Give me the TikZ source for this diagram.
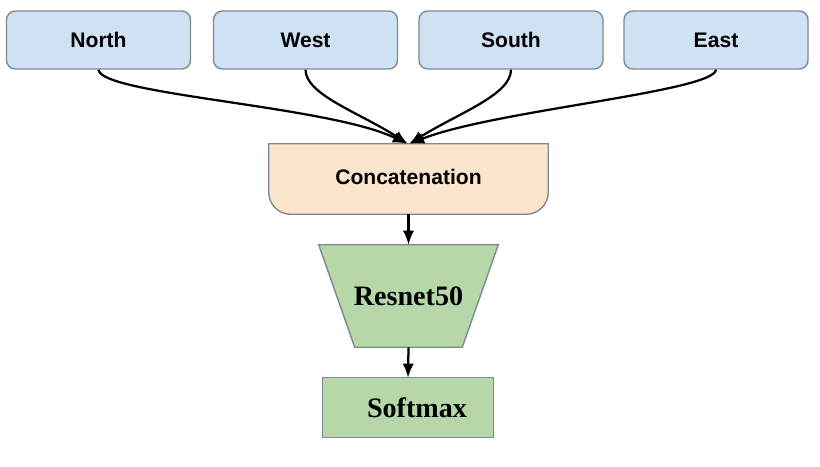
\documentclass[tikz,border=0pt]{standalone}
\usepackage{fontspec}
\usetikzlibrary{arrows.meta,backgrounds}
\newfontfamily\boxfont{Liberation Sans}
\newfontfamily\netfont{Liberation Serif}
\definecolor{dirblue}{HTML}{CFE2F3}
\definecolor{catpeach}{HTML}{FCE5CD}
\definecolor{netgreen}{HTML}{B6D7A8}
\definecolor{edgegray}{HTML}{7E8A94}
\tikzset{
  dirbox/.style={draw=edgegray, line width=1pt, fill=dirblue, rounded corners=0.22cm,
    minimum width=4.6cm, minimum height=1.45cm, inner sep=0pt,
    font=\boxfont\fontsize{15}{18}\selectfont\bfseries},
  netlabel/.style={minimum width=#1, inner sep=0pt,
    font=\netfont\fontsize{20}{24}\selectfont\bfseries},
  flow/.style={line width=1.6pt, -{Latex[length=10pt,width=8pt]}}
}

\begin{document}
\begin{tikzpicture}
			%%%%% START %%%%%
			\useasboundingbox (0, 0) rectangle (20.5, -11.675);
			
			\node[dirbox] (north) at (2.4625, -1.0) {North};
			\node[dirbox] (west) at (7.6375, -1.0) {West};
			\node[dirbox] (south) at (12.775, -1.0) {South};
			\node[dirbox] (east) at (17.9, -1.0) {East};
			
			\node[minimum width=6.975cm, minimum height=1.75cm, inner sep=0pt,
			  font=\boxfont\fontsize{15}{18}\selectfont\bfseries] (concat) at (10.2125, -4.475) {\raisebox{0.1cm}{Concatenation}};
			\node[netlabel=4.475cm, minimum height=2.55cm] (resnet) at (10.2125, -7.4) {Resnet50};
			\node[netlabel=4.25cm, minimum height=1.475cm] (softmax) at (10.2, -10.1875) {\hspace{0.45cm}Softmax};
			
			\begin{scope}[on background layer]
			\draw[draw=edgegray, line width=1pt, fill=catpeach] (concat.north west) -- (concat.north east)
			  -- ([yshift=0.55cm]concat.south east) arc[start angle=0, end angle=-90, radius=0.55cm]
			  -- ([xshift=0.55cm]concat.south west) arc[start angle=270, end angle=180, radius=0.55cm] -- cycle;
			\draw[draw=edgegray, line width=1pt, fill=netgreen] (resnet.north west) -- (resnet.north east)
			  -- ([xshift=-0.9cm]resnet.south east) -- ([xshift=0.9cm]resnet.south west) -- cycle;
			\draw[draw=edgegray, line width=1pt, fill=netgreen] (softmax.north west) rectangle (softmax.south east);
			\end{scope}
			
			\draw[flow] (north.south) .. controls +(0.05, -0.625) and +(-1.95, 0.95) .. ([xshift=-0.04cm]concat.north);
			\draw[flow] (west.south) .. controls +(0, -0.625) and +(-1.2, 0.775) .. ([xshift=-0.02cm]concat.north);
			\draw[flow] (south.south) .. controls +(0, -0.625) and +(1.25, 0.775) .. ([xshift=0.02cm]concat.north);
			\draw[flow] (east.south) .. controls +(-0.05, -0.55) and +(2.05, 0.825) .. ([xshift=0.04cm]concat.north);
			
			\draw[flow] (concat.south) -- (resnet.north);
			\draw[flow] (resnet.south) -- (softmax.north);
			%%%%% END %%%%%
\end{tikzpicture}
\end{document}
